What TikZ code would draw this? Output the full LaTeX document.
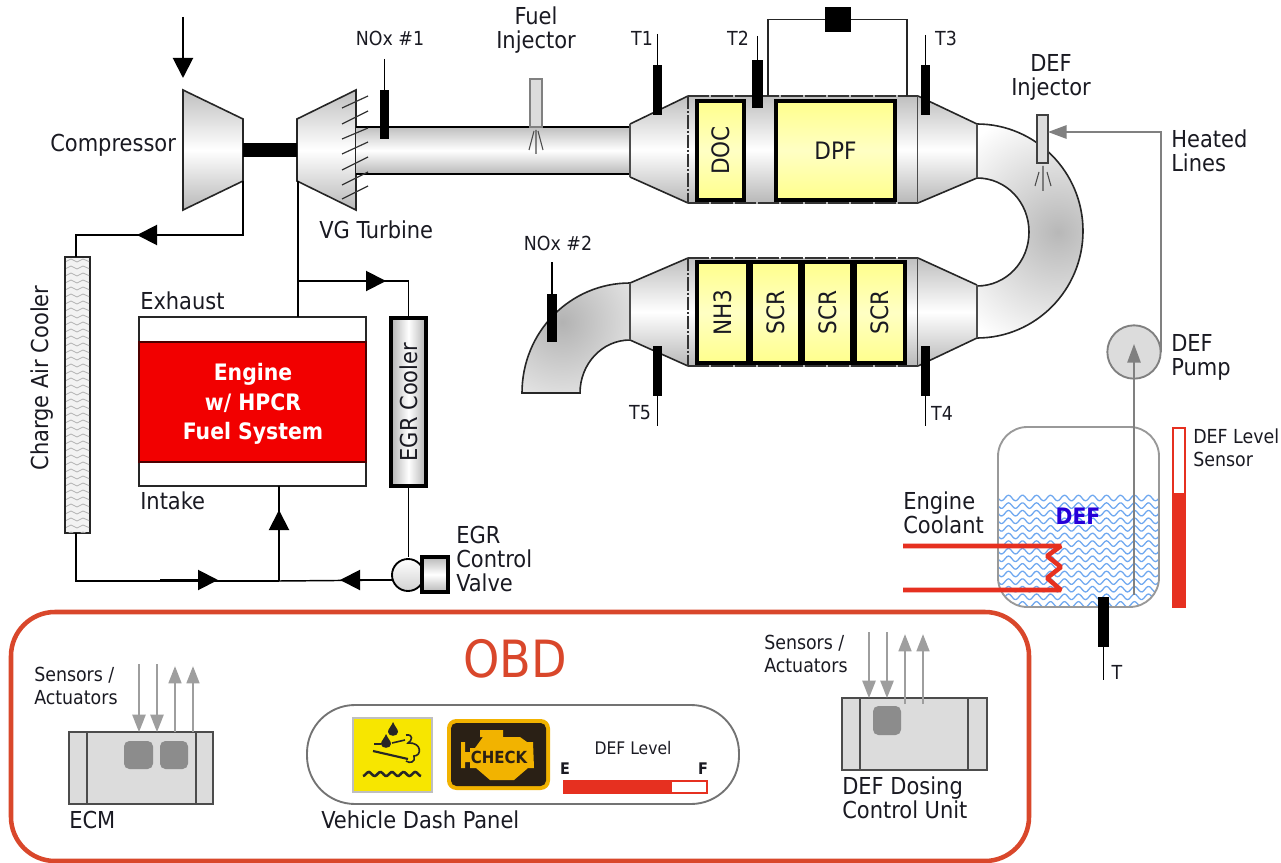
\documentclass[tikz,border=0pt]{standalone}
\usepackage{fontspec}
\usepackage{graphicx}
\setmainfont{DejaVu Sans Condensed}
\usetikzlibrary{arrows.meta}
\definecolor{inkc}{HTML}{1A1A22}
\definecolor{brick}{HTML}{FFFF8C}
\definecolor{brickl}{HTML}{FFFFC4}
\definecolor{obdc}{HTML}{D9472B}
\definecolor{redl}{HTML}{E63020}
\definecolor{wavec}{HTML}{6FA8F0}
\definecolor{grayc}{HTML}{808080}
\definecolor{paneld}{HTML}{DCDCDC}
\definecolor{goldc}{HTML}{F2B300}
\definecolor{duskc}{HTML}{2A2015}
\definecolor{iconyel}{HTML}{F7E600}
\newcommand{\bx}[7]{\pgfmathsetmacro\bw{(#4-#2)*0.75}\pgfmathsetmacro\bh{(#5-#3)*0.75}\node[inner sep=0pt,outer sep=0pt,minimum width=\bw pt,minimum height=\bh pt,#6] (#1) at ({(#2+#4)/2},{(#3+#5)/2}) {#7};}
\newcommand{\brickfont}{\fontsize{18}{19}\selectfont}
\tikzset{
  x=0.75pt,y=-0.75pt,
  lbl/.style={text=inkc,inner sep=0pt,align=left,font=\fontsize{17.5}{18}\selectfont},
  lblc/.style={lbl,align=center},
  lbls/.style={text=inkc,inner sep=0pt,align=left,font=\fontsize{14.5}{17}\selectfont},
  lblm/.style={text=inkc,inner sep=0pt,align=center,font=\fontsize{14.5}{17}\selectfont},
  pipe/.style={line width=1.1pt,draw=black},
  edge/.style={line width=1.2pt,draw=black!85},
  lead/.style={line width=0.8pt,draw=black},
  flowhead/.style={line width=1.5pt,-{Triangle[length=15pt,width=15pt]}},
  sensor/.style={fill=black,draw=none},
  brickbox/.style={top color=brick,bottom color=brick,middle color=brickl,draw=black,line width=2.4pt,text=inkc,font=\brickfont},
  metal/.style={top color=black!25,bottom color=black!28,middle color=white},
  grayline/.style={line width=1.5pt,draw=grayc},
  ghead/.style={grayline,-{Triangle[length=14pt,width=10pt]}},
  sigdown/.style={line width=1.1pt,draw=black!38,-{Triangle[length=13pt,width=10pt]}},
  sigup/.style={line width=2pt,draw=black!38,-{Triangle[length=13pt,width=9.5pt]}},
  ecubox/.style={fill=paneld,draw=black!70,line width=1.2pt},
  ecuchip/.style={fill=black!45,draw=none,rounded corners=4pt},
  wave/.style={line width=0.95pt,draw=wavec},
  coolant/.style={line width=3.4pt,draw=redl,line join=bevel},
  spray/.style={line width=0.8pt,draw=black!70},
  candash/.style={line width=1.1pt,draw=black!80,dash pattern=on 16pt off 1.5pt},
  canend/.style={line width=1pt,draw=black!80,dash pattern=on 10pt off 1.5pt on 1.5pt off 1.5pt},
}
\begin{document}
\begin{tikzpicture}
\useasboundingbox (0,0) rectangle (1281,863);
\fill[white] (0,0) rectangle (1281,863);
%--- air path coordinates
\coordinate (airIn) at (183,17);
\coordinate (airTip) at (183,78);
\coordinate (cmpOut) at (243,181);
\coordinate (cacCorner) at (76,235);
\coordinate (arA1) at (190,235);
\coordinate (arA2) at (137,235);
\coordinate (turbIn) at (298,181);
\coordinate (egrJoin) at (298,281);
\coordinate (egrCorner) at (408.5,281);
\coordinate (arB1) at (335,281);
\coordinate (arB2) at (386,281);
\coordinate (mixCorner) at (76,581);
\coordinate (mix) at (279,581);
\coordinate (arC1) at (160,580);
\coordinate (arC2) at (218,580);
\coordinate (arD1) at (392,580);
\coordinate (arD2) at (340,580);
\coordinate (arE1) at (279,570);
\coordinate (arE2) at (279,510);
%--- compressor / turbine
\shade[metal] (183,90) -- (243,119) -- (243,181) -- (183,210) -- cycle;
\draw[edge] (183,90) -- (243,119) -- (243,181) -- (183,210) -- cycle;
\shade[metal] (297,119) -- (356,90) -- (356,210) -- (297,181) -- cycle;
\draw[edge] (297,119) -- (356,90) -- (356,210) -- (297,181) -- cycle;
\bx{shaft}{243}{143}{297}{157}{fill=black}{}
%--- exhaust pipe
\bx{pipeA}{356}{127}{630}{174}{metal}{}
\draw[line width=2pt] (pipeA.north west) -- (pipeA.north east) (pipeA.south west) -- (pipeA.south east);
%--- turbine vanes
\foreach \a/\b in {108/96,124/111,139/128,154/142,170/157,185/172,199/186}
  \draw[line width=0.9pt,black!80] (342,\a) -- (368,\b);
%--- cooler, engine, loops
\bx{cac}{65}{257}{90}{533}{fill=black!5,draw=black!85,line width=1.1pt}{}
\begin{scope}
\clip (66,258) rectangle (89,532);
\foreach \r in {0,...,39}
  \draw[line width=0.6pt,black!30] (65,{262+\r*7}) -- (71,{259+\r*7}) -- (77,{262+\r*7}) -- (83,{259+\r*7}) -- (90,{262+\r*7});
\end{scope}
\bx{engine}{139}{317}{366}{486}{fill=white,draw=black!85,line width=1.2pt}{}
\bx{engcore}{139}{342}{366}{462}{fill=red!95!black,draw=black!70!red,line width=0.8pt}{}
\node[inner sep=0pt,text=white,align=center,font=\bfseries\fontsize{17}{22}\selectfont] (engtxt) at (253,404) {Engine\\w/ HPCR\\Fuel System};
\bx{egrc}{391}{318}{426}{486}{left color=black!30,right color=black!30,middle color=white,text=inkc,font=\fontsize{17.5}{18}\selectfont}{\rotatebox{90}{EGR Cooler}}
\draw[line width=2.3pt] (egrc.north west) rectangle (egrc.south east);
\draw[pipe] (cmpOut) |- (cacCorner) -- (cac.north -| cacCorner);
\draw[pipe] (cac.south -| cacCorner) -- (mixCorner) -- (mix);
\draw[pipe] (turbIn) -- (engine.north -| turbIn);
\draw[pipe] (egrJoin) -- (egrCorner) -- (egrc.north);
\draw[pipe] (mix) -- (engine.south -| mix);
\draw[pipe] (egrc.south) -- (408.5,557);
\draw[pipe] (mix) -- (arD1);
\draw[flowhead] (airIn) -- (airTip);
\draw[flowhead] (arA1) -- (arA2);
\draw[flowhead] (arB1) -- (arB2);
\draw[flowhead] (arC1) -- (arC2);
\draw[flowhead] (arD1) -- (arD2);
\draw[flowhead] (arE1) -- (arE2);
%--- EGR valve
\node[circle,minimum size=24pt,inner sep=0pt,outer sep=0pt,top color=white,bottom color=black!18] (valve) at (408,575) {};
\draw[line width=1.4pt] (valve) circle[radius=16];
\bx{valveact}{422}{557}{448}{592}{top color=black!28,bottom color=black!28,middle color=white}{}
\draw[line width=2.3pt] (valveact.north west) rectangle (valveact.south east);
%--- upper bend
\begin{scope}
\clip (977,124) .. controls (1035.5,124) and (1083,172) .. (1083,231) .. controls (1083,290) and (1035.5,338) .. (977,338) -- (977,286) .. controls (1006,286) and (1029,262) .. (1029,232) .. controls (1029,202) and (1006,178) .. (977,178) -- cycle;
\fill[white] (960,110) rectangle (1100,350);
\shade[inner color=black!28,outer color=white] (1058,232) circle[radius=125];
\end{scope}
\draw[edge] (977,124) .. controls (1035.5,124) and (1083,172) .. (1083,231) .. controls (1083,290) and (1035.5,338) .. (977,338);
\draw[edge] (977,178) .. controls (1006,178) and (1029,202) .. (1029,232) .. controls (1029,262) and (1006,286) .. (977,286);
\draw[line width=1pt,black!70] (977,124) -- (977,178) (977,286) -- (977,338);
%--- lower bend
\begin{scope}
\clip (630,283) .. controls (570,283) and (522,332) .. (522,393) -- (580,393) .. controls (580,364) and (602,340) .. (630,340) -- cycle;
\fill[white] (510,270) rectangle (640,400);
\shade[inner color=black!30,outer color=white] (562,322) circle[radius=125];
\end{scope}
\draw[edge] (630,283) .. controls (570,283) and (522,332) .. (522,393) -- (580,393) .. controls (580,364) and (602,340) .. (630,340);
%--- upper can
\shade[metal] (630,124) -- (688,96) -- (688,203) -- (630,177) -- cycle;
\draw[edge] (630,124) -- (688,96) (630,177) -- (688,203);
\draw[line width=1pt,black!70] (630,124) -- (630,177);
\bx{canA}{688}{96}{918}{203}{metal}{}
\draw[candash] (canA.north west) -- (canA.north east);
\draw[candash] (canA.south west) -- (canA.south east);
\draw[canend] (canA.north west) -- (canA.south west);
\draw[line width=1pt,black!70] (canA.north east) -- (canA.south east);
\shade[metal] (918,96) -- (977,124) -- (977,178) -- (918,203) -- cycle;
\draw[edge] (918,96) -- (977,124) (918,203) -- (977,178);
\draw[line width=1pt,black!70] (977,124) -- (977,178);
\bx{doc}{697}{101}{744}{200}{brickbox}{\rotatebox{90}{DOC}}
\bx{dpf}{776}{101}{895}{200}{brickbox}{DPF}
%--- lower can
\shade[metal] (630,283) -- (688,258) -- (688,366) -- (630,340) -- cycle;
\draw[edge] (630,283) -- (688,258) (630,340) -- (688,366);
\draw[line width=1pt,black!70] (630,283) -- (630,340);
\bx{canB}{688}{258}{918}{366}{metal}{}
\draw[candash] (canB.north west) -- (canB.north east);
\draw[candash] (canB.south west) -- (canB.south east);
\draw[canend] (canB.north west) -- (canB.south west);
\draw[line width=1pt,black!70] (canB.north east) -- (canB.south east);
\shade[metal] (918,258) -- (977,285) -- (977,338) -- (918,366) -- cycle;
\draw[edge] (918,258) -- (977,285) (918,366) -- (977,338);
\draw[line width=1pt,black!70] (977,285) -- (977,338);
\bx{nh}{697}{262}{748}{363}{brickbox}{\rotatebox{90}{NH3}}
\bx{scrA}{751}{262}{800}{363}{brickbox}{\rotatebox{90}{SCR}}
\bx{scrB}{803}{262}{852}{363}{brickbox}{\rotatebox{90}{SCR}}
\bx{scrC}{855}{262}{905}{363}{brickbox}{\rotatebox{90}{SCR}}
%--- sensors
\bx{noxA}{380}{90}{389}{139}{sensor}{}
\coordinate (noxAl) at (384.5,59);
\draw[lead] (noxAl) -- (noxA.north);
\bx{noxB}{547}{294}{557}{342}{sensor}{}
\coordinate (noxBl) at (552,262);
\draw[lead] (noxBl) -- (noxB.north);
\bx{tA}{653}{65}{662}{115}{sensor}{}
\coordinate (tAl) at (657.5,34);
\draw[lead] (tAl) -- (tA.north);
\bx{tB}{752}{60}{763}{108}{sensor}{}
\coordinate (tBl) at (757.5,36);
\draw[lead] (tBl) -- (tB.north);
\bx{tC}{921}{65}{930}{115}{sensor}{}
\coordinate (tCl) at (925.5,35);
\draw[lead] (tCl) -- (tC.north);
\bx{tD}{921}{346}{930}{396}{sensor}{}
\coordinate (tDl) at (925.5,426);
\draw[lead] (tD.south) -- (tDl);
\bx{tE}{653}{346}{662}{396}{sensor}{}
\coordinate (tEl) at (657.5,426);
\draw[lead] (tE.south) -- (tEl);
\bx{dp}{825}{7}{851}{32}{sensor}{}
\coordinate (dpL) at (768,96);
\coordinate (dpR) at (907,96);
\draw[line width=0.9pt,black!85] (dpL) |- (dp.west);
\draw[line width=0.9pt,black!85] (dpR) |- (dp.east);
%--- injectors
\bx{fuelinj}{530}{79}{542}{127}{fill=paneld,draw=black!50,line width=0.8pt}{}
\draw[spray] (536,130) -- (536,154) (534,131) -- (529,150) (538,131) -- (543,150);
\bx{definj}{1037}{115}{1048}{163}{fill=paneld,draw=black!75,line width=1pt}{}
\draw[spray] (1043,166) -- (1043,191) (1039,172) -- (1035,186) (1047,172) -- (1051,186);
%--- DEF tank
\begin{scope}
\clip[rounded corners=22pt] (998,427) rectangle (1159,607);
\foreach \r in {0,...,14}
  \draw[wave] plot[smooth,domain=998:1160,samples=110] (\x,{498+\r*7.6+2.8*sin((\x-998)/14*360)});
\end{scope}
\bx{tank}{998}{427}{1159}{607}{draw=black!40,line width=1.4pt,rounded corners=22pt}{}
\node[inner sep=0pt,text=blue!85!red,font=\bfseries\fontsize{17}{18}\selectfont] (deflab) at (1078,516) {DEF};
\draw[coolant] (903,546) -- (1061,546) -- (1047,556) -- (1061,567) -- (1047,578) -- (1061,590) -- (903,590);
\node[circle,minimum size=40pt,inner sep=0pt,outer sep=0pt,fill=paneld,draw=grayc,line width=1.4pt] (pump) at (1134,352) {};
\coordinate (tankDraw) at (1134,595);
\coordinate (pumpTip) at (1134,344);
\draw[ghead,line width=1.3pt] (tankDraw) -- (pumpTip);
\coordinate (heatLevel) at (0,132);
\coordinate (heatCorner) at (pump.east |- heatLevel);
\draw[ghead] (pump.east) -- (heatCorner) -- (definj.east |- heatLevel);
\bx{tF}{1098}{597}{1109}{647}{sensor}{}
\coordinate (tFl) at (1103.5,680);
\draw[lead] (tF.south) -- (tFl);
\bx{lvl}{1173}{428}{1185}{607}{fill=white,draw=redl,line width=0.8pt}{}
\fill[redl] (1173,493) rectangle (1185,607);
%--- OBD frame
\bx{obd}{11}{612}{1029}{861}{draw=obdc,line width=3.4pt,rounded corners=33pt}{}
\node[inner sep=0pt,text=obdc,font=\fontsize{38.5}{40}\selectfont] (obdl) at (515,659) {OBD};
%--- ECM
\bx{ecm}{69}{732}{213}{804}{ecubox}{}
\draw[line width=1.2pt,black!70] (87,732) -- (87,804) (196,732) -- (196,804);
\bx{ecmA}{124}{741}{153}{769}{ecuchip}{}
\bx{ecmB}{160}{741}{188}{769}{ecuchip}{}
\foreach \n/\x in {a/139,b/157}{
  \coordinate (ecmIn\n) at (\x,664); \coordinate (ecmTo\n) at (\x,732);
  \draw[sigdown] (ecmIn\n) -- (ecmTo\n);}
\foreach \n/\x in {c/175,d/193}{
  \coordinate (ecmFrom\n) at (\x,732); \coordinate (ecmOut\n) at (\x,666);
  \draw[sigup] (ecmFrom\n) -- (ecmOut\n);}
%--- DCU
\bx{dcu}{842}{698}{987}{770}{ecubox}{}
\draw[line width=1.2pt,black!70] (860,698) -- (860,770) (968,698) -- (968,770);
\bx{dcuA}{873}{706}{901}{735}{ecuchip}{}
\foreach \n/\x in {a/869,b/887}{
  \coordinate (dcuIn\n) at (\x,632); \coordinate (dcuTo\n) at (\x,698);
  \draw[sigdown] (dcuIn\n) -- (dcuTo\n);}
\foreach \n/\x in {c/905,d/923}{
  \coordinate (dcuFrom\n) at (\x,704); \coordinate (dcuOut\n) at (\x,634);
  \draw[sigup] (dcuFrom\n) -- (dcuOut\n);}
%--- dash panel
\bx{dash}{307}{705}{739}{804}{draw=black!55,line width=1.4pt,rounded corners=36pt}{}
\bx{iconA}{353}{718}{432}{792}{fill=iconyel,draw=black!25,line width=1pt}{}
\fill[black!85] (393,722) .. controls (395,727) and (398,729) .. (398,732) .. controls (398,737) and (388,737) .. (388,732) .. controls (388,729) and (391,727) .. (393,722) -- cycle;
\fill[black!85] (386,734) .. controls (388,739) and (391,741) .. (391,744) .. controls (391,749) and (381,749) .. (381,744) .. controls (381,741) and (384,739) .. (386,734) -- cycle;
\draw[line width=1.2pt,black!85] (392,743) -- (405,740) (374,744) -- (381,744);
\draw[line width=1.6pt,black!85] (373,751) -- (408,759);
\draw[line width=1.2pt,black!85] (406,735) .. controls (414,734) and (412,741) .. (408,743) .. controls (422,742) and (422,756) .. (414,756) .. controls (416,762) and (410,764) .. (406,761);
\draw[line width=1.9pt,black!85] plot[smooth,domain=363:421,samples=40] (\x,{774+2*sin((\x-363)/11.6*360+90)});
\bx{iconB}{447}{719}{550}{790}{fill=goldc,rounded corners=7pt}{}
\bx{iconBi}{451}{723}{546}{786}{fill=duskc,rounded corners=4pt}{}
\fill[goldc] (470,748) -- (475,748) -- (483,737) -- (480,737) -- (480,730) -- (503,730) -- (503,737) -- (520,737) -- (527,742) -- (533,742) -- (534,768) -- (528,768) -- (514,780) -- (490,780) -- (476,768) -- (470,768) -- cycle;
\fill[goldc] (461,742) rectangle (465,768) (465,752) rectangle (470,762);
\node[inner sep=0pt,text=duskc,font=\bfseries\fontsize{12.5}{13}\selectfont] (checkt) at (499,757) {CHECK};
\bx{bar}{564}{781}{707}{793}{fill=white,draw=redl,line width=0.8pt}{}
\fill[redl] (564,781) rectangle (672,793);
\node[lblm,font=\bfseries\fontsize{12}{13}\selectfont] (eLab) at (565,769) {E};
\node[lblm,font=\bfseries\fontsize{12}{13}\selectfont] (fLab) at (703,769) {F};
\node[lblm,font=\fontsize{13}{14}\selectfont] (defLvl) at (633,748) {DEF Level};
%--- labels
\node[lbl,anchor=west] (lCmp) at (50,145) {Compressor};
\node[lbl,anchor=west] (lVG) at (319,230) {VG Turbine};
\node[lblc] (lFuel) at (536,30) {Fuel\\Injector};
\node[lblm] (lN1) at (390,38) {NOx \#1};
\node[lblm] (lN2) at (558,243) {NOx \#2};
\node[lblm] (lT1) at (642,38) {T1};
\node[lblm] (lT2) at (738,38) {T2};
\node[lblm] (lT3) at (946,38) {T3};
\node[lblm] (lT4) at (942,413) {T4};
\node[lblm] (lT5) at (640,413) {T5};
\node[lblm] (lT) at (1117,672) {T};
\node[lblc] (lDI) at (1051,77) {DEF\\Injector};
\node[lbl,anchor=west] (lHL) at (1171,151) {Heated\\Lines};
\node[lbl,anchor=west] (lPump) at (1171,357) {DEF\\Pump};
\node[lbl,anchor=west] (lEC) at (903,513) {Engine\\Coolant};
\node[lbl,anchor=west] (lEGR) at (456,559) {EGR\\Control\\Valve};
\node[lbl,anchor=west] (lExh) at (140,301) {Exhaust};
\node[lbl,anchor=west] (lInt) at (140,501) {Intake};
\node[lbl,rotate=90] (lCAC) at (42,378) {Charge Air Cooler};
\node[lbls,anchor=west] (lLvl) at (1193,448) {DEF Level\\Sensor};
\node[lbls,anchor=west] (lSA) at (34,686) {Sensors /\\Actuators};
\node[lbls,anchor=west] (lSB) at (764,654) {Sensors /\\Actuators};
\node[lbl,anchor=west] (lECM) at (69,820) {ECM};
\node[lbl,anchor=west] (lDCU) at (842,798) {DEF Dosing\\Control Unit};
\node[lbl,anchor=west] (lVDP) at (321,820) {Vehicle Dash Panel};
\end{tikzpicture}
\end{document}
